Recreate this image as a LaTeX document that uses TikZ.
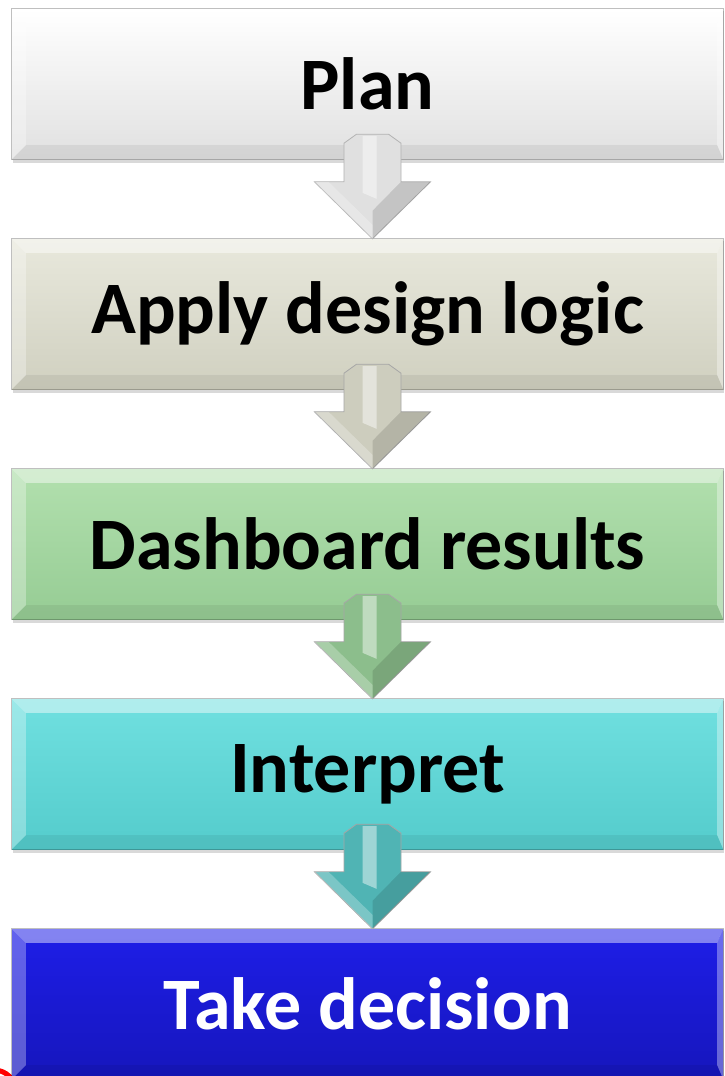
\documentclass[tikz,border=0pt]{standalone}
\usepackage{fontspec}
\setmainfont{Carlito}
\usetikzlibrary{calc, positioning}
\definecolor{applytop}{RGB}{232,232,220}
\definecolor{applybot}{RGB}{208,208,192}
\definecolor{applyarr}{RGB}{205,205,190}
\definecolor{dashtop}{RGB}{178,224,174}
\definecolor{dashbot}{RGB}{150,204,148}
\definecolor{dasharr}{RGB}{140,190,140}
\definecolor{interptop}{RGB}{112,224,224}
\definecolor{interpbot}{RGB}{84,204,204}
\definecolor{interparr}{RGB}{80,180,180}
\definecolor{decidetop}{RGB}{30,30,232}
\definecolor{decidebot}{RGB}{22,22,188}
\tikzstyle{stepbox}=[rectangle, minimum width=711pt, minimum height=150pt, inner sep=0pt, font=\fontsize{74}{78}\selectfont\bfseries]
\tikzstyle{shadowbox}=[fill=black, opacity=0.15]
% bevel on a box node
\newcommand{\boxbevel}[1]{
\fill[white, opacity=0.45] (#1.north west) -- (#1.north east) -- ($(#1.north east)+(-6,14)$) -- ($(#1.north west)+(14,14)$) -- cycle;
\fill[white, opacity=0.3] (#1.north west) -- ($(#1.north west)+(14,14)$) -- ($(#1.south west)+(14,-14)$) -- (#1.south west) -- cycle;
\fill[white, opacity=0.35] (#1.north east) -- ($(#1.north east)+(-6,14)$) -- ($(#1.south east)+(-6,-14)$) -- (#1.south east) -- cycle;
\fill[black, opacity=0.06] (#1.south west) -- ($(#1.south west)+(14,-14)$) -- ($(#1.south east)+(-6,-14)$) -- (#1.south east) -- cycle;
\draw[black, opacity=0.25, line width=1.2pt] (#1.north west) rectangle (#1.south east);
}
% block arrow from one box to the next
\newcommand{\flowarrow}[4]{
\coordinate (tip) at ($(#2.north)+(5,0)$);
\coordinate (top) at ($(#1.south)+(5,-25)$);
\fill[#3, draw=#4, line width=0.8pt] ($(top)+(-28.5,9)$) -- ($(top)+(-16,0)$) -- ($(top)+(16,0)$) -- ($(top)+(28.5,9)$) -- ($(tip)+(28.5,-57)$) -- ($(tip)+(58,-57)$) -- (tip) -- ($(tip)+(-58,-57)$) -- ($(tip)+(-28.5,-57)$) -- cycle;
\fill[white, opacity=0.45] ($(top)+(-10,2)$) -- ($(top)+(4,2)$) -- ($(tip)+(4,-40)$) -- ($(tip)+(-10,-46)$) -- cycle;
\fill[black, opacity=0.12] (tip) -- ($(tip)+(58,-57)$) -- ($(tip)+(28.5,-57)$) -- ($(tip)+(0,-28)$) -- cycle;
\fill[white, opacity=0.25] (tip) -- ($(tip)+(-58,-57)$) -- ($(tip)+(-44,-57)$) -- ($(tip)+(0,-14)$) -- cycle;
}
\begin{document}
\begin{tikzpicture}[x=1pt, y=-1pt]
\useasboundingbox (0,0) rectangle (725,1076);
\fill[white] (0,0) rectangle (725,1076);
% cut-off red mark
\draw[red, line width=5pt] (-6,1092) circle (22);
% shadows
\foreach \y in {84,314,544,774,1004}
  \fill[shadowbox] (13,\y-73) rectangle (724,\y+79);
\node[stepbox, top color=white, bottom color=black!12] (plan) at (367.5,84) {Plan};
\node[stepbox, top color=applytop, bottom color=applybot] (apply) at (367.5,314) {Apply design logic};
\node[stepbox, top color=dashtop, bottom color=dashbot] (dash) at (367.5,544) {Dashboard results};
\node[stepbox, top color=interptop, bottom color=interpbot] (interp) at (367.5,774) {Interpret};
\node[stepbox, text=white, top color=decidetop, bottom color=decidebot] (decide) at (367.5,1004) {Take decision};
\boxbevel{plan} \boxbevel{apply} \boxbevel{dash} \boxbevel{interp} \boxbevel{decide}
\flowarrow{plan}{apply}{black!12}{black!30}
\flowarrow{apply}{dash}{applyarr}{black!35}
\flowarrow{dash}{interp}{dasharr}{black!35}
\flowarrow{interp}{decide}{interparr}{black!35}
\end{tikzpicture}
\end{document}
